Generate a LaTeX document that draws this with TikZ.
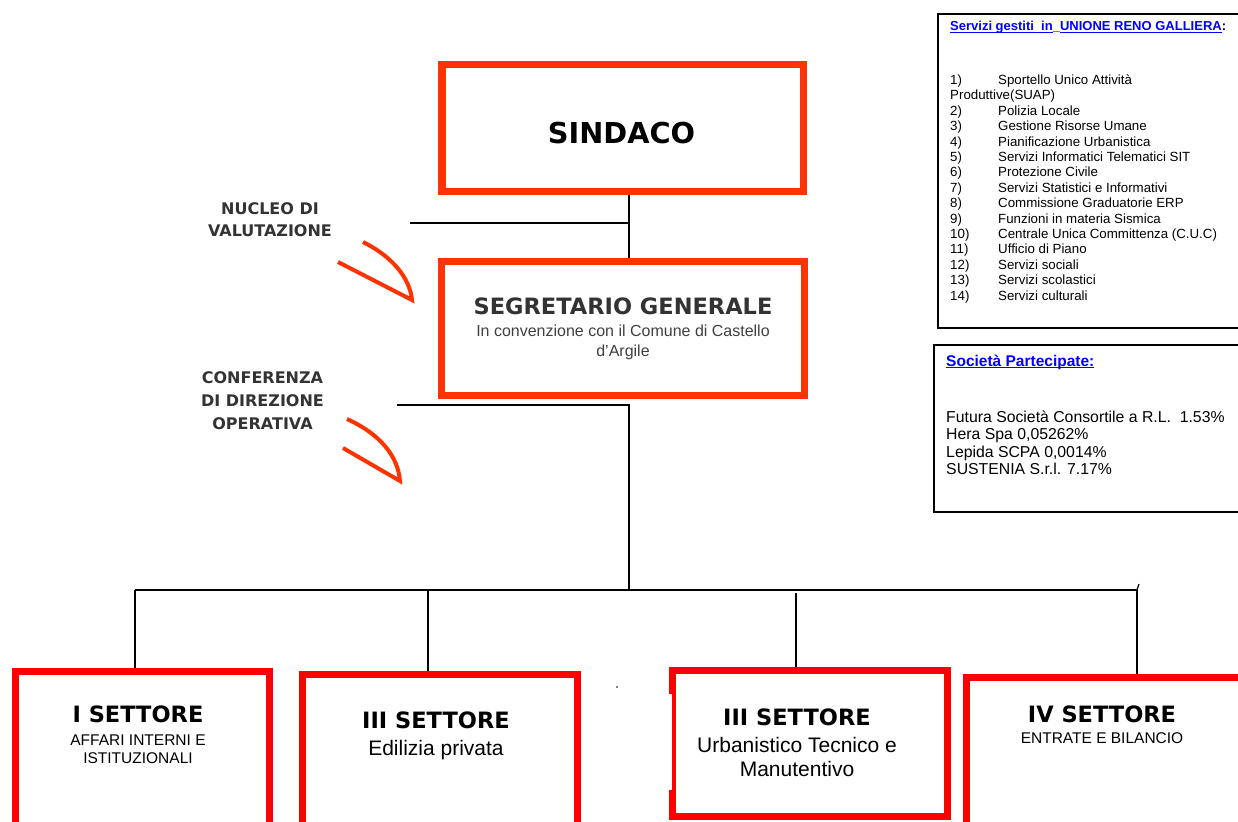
\documentclass[tikz,border=0pt]{standalone}
\usepackage{fontspec}
\setmainfont{Liberation Sans}
\newfontfamily\dejavu{DejaVu Sans}
\definecolor{ored}{HTML}{FF3300}
\definecolor{bred}{HTML}{FF0000}
\definecolor{dgray}{HTML}{333333}
\definecolor{sgray}{HTML}{404040}
\definecolor{lblue}{HTML}{0000FF}
\newcommand\myul[1]{\setbox0\hbox{#1}\rlap{\rule[-2.3pt]{\wd0}{1.3pt}}\box0}
\newcommand\nm[1]{\makebox[48pt][l]{#1}}
\begin{document}
\begin{tikzpicture}[x=1pt,y=-1pt,
  topbox/.style={draw=ored,line width=7.5pt,inner sep=0pt},
  secbox/.style={draw=bred,line width=7pt,inner sep=0pt},
  sidebox/.style={draw=black,line width=2pt,inner sep=0pt},
  link/.style={draw=black,line width=1.8pt},
  curl/.style={draw=ored,line width=4pt,line join=miter},
  lbl/.style={inner sep=0pt,anchor=base},
  heavy/.style={font=\dejavu\bfseries\fontsize{#1}{#1}\selectfont},
  plain/.style={font=\fontsize{#1}{#1}\selectfont}]
\useasboundingbox (0,0) rectangle (1238,821);
\clip (0,0) rectangle (1238,821);

% connectors
\coordinate (j1) at (629,223);
\coordinate (nv) at (410,223);
\coordinate (cd) at (397,405);
\coordinate (j2) at (629,405);
\coordinate (j3) at (629,590);
\coordinate (b1) at (135,590);
\coordinate (b2) at (428,590);
\coordinate (b3) at (796,593);
\coordinate (b4) at (1137,590);

% boxes
\node[topbox,minimum width=361.5pt,minimum height=126.5pt] (sind) at (622.5,128) {};
\node[topbox,minimum width=363pt,minimum height=134pt] (seg) at (623,328.5) {};
\node[secbox,minimum width=254pt,minimum height=155pt] (s1) at (142.5,749) {};
\node[secbox,minimum width=275pt,minimum height=154pt] (s2) at (440,751.5) {};
\node[secbox,minimum width=275pt,minimum height=146pt] (s3) at (810,743.5) {};
\node[secbox,minimum width=284pt,minimum height=151pt] (s4) at (1108.5,753) {};
\fill[white] (668.5,694) rectangle (672.2,790);

\draw[link] (sind.south -| j1) -- (seg.north -| j1);
\draw[link] (nv) -- (j1);
\draw[link] (cd) -- (j2) -- (j3);
\draw[link] (b1) -- (b4);
\draw[link] (b1) -- (s1.north -| b1);
\draw[link] (b2) -- (s2.north -| b2);
\draw[link] (b3) -- (s3.north -| b3);
\draw[link] (b4) -- (s4.north -| b4);
\draw[link,line width=1.2pt] (b4) -- ++(2,-6);
\fill (617,687) circle (0.8);

% curls
\draw[curl] (363,242) .. controls (395,258) and (410,280) .. (412,300) -- (338,262);
\draw[curl] (347,419) .. controls (380,434) and (398,456) .. (400,481) -- (343,448);

% texts
\node[lbl,heavy=28.8] (sindt) at (621.5,144) {SINDACO};
\node[lbl,heavy=22.5,text=dgray] (segt) at (623,314) {SEGRETARIO GENERALE};
\node[lbl,font=\fontsize{16}{20}\selectfont,text=sgray] (segs) at (623,336)
  {\parbox[t]{330pt}{\centering In convenzione con il Comune di Castello\\d’Argile}};
\node[lbl,font=\dejavu\bfseries\fontsize{16}{22}\selectfont,text=dgray] (nucleo) at (270,214)
  {\parbox[t]{200pt}{\centering NUCLEO DI\\VALUTAZIONE}};
\node[lbl,font=\dejavu\bfseries\fontsize{16}{23}\selectfont,text=dgray] (cdo) at (262.5,383)
  {\parbox[t]{200pt}{\centering CONFERENZA\\DI DIREZIONE\\OPERATIVA}};

\node[lbl,heavy=22.5] (s1t) at (138,722) {I SETTORE};
\node[lbl,font=\fontsize{15.5}{18}\selectfont] (s1s) at (138,745)
  {\parbox[t]{240pt}{\centering AFFARI INTERNI E\\ISTITUZIONALI}};
\node[lbl,heavy=22.5] (s2t) at (436,728) {III SETTORE};
\node[lbl,plain=21] (s2s) at (436,755.5) {Edilizia privata};
\node[lbl,heavy=22.5] (s3t) at (797,725) {III SETTORE};
\node[lbl,font=\fontsize{21}{24}\selectfont] (s3s) at (797,752.5)
  {\parbox[t]{260pt}{\centering Urbanistico Tecnico e\\Manutentivo}};
\node[lbl,heavy=22.5] (s4t) at (1102,722) {IV SETTORE};
\node[lbl,plain=15.5] (s4s) at (1102,743.5) {ENTRATE E BILANCIO};

% side boxes
\node[sidebox,minimum width=312pt,minimum height=314pt] (srv) at (1094,171) {};
\node[lbl,anchor=base west,font=\bfseries\fontsize{13}{15}\selectfont,text=lblue] (srvt) at (950,31)
  {\myul{Servizi gestiti\ \ in}{\color{black}\_}\myul{UNIONE RENO GALLIERA}{\color{black}:}};
\node[lbl,anchor=base west,font=\fontsize{13.3}{15.4}\selectfont] (srvl) at (950,84.5)
  {\parbox[t]{285pt}{\raggedright
  \nm{1)}Sportello Unico Attività\\
  Produttive(SUAP)\\
  \nm{2)}Polizia Locale\\
  \nm{3)}Gestione Risorse Umane\\
  \nm{4)}Pianificazione Urbanistica\\
  \nm{5)}Servizi Informatici Telematici SIT\\
  \nm{6)}Protezione Civile\\
  \nm{7)}Servizi Statistici e Informativi\\
  \nm{8)}Commissione Graduatorie ERP\\
  \nm{9)}Funzioni in materia Sismica\\
  \nm{10)}Centrale Unica Committenza (C.U.C)\\
  \nm{11)}Ufficio di Piano\\
  \nm{12)}Servizi sociali\\
  \nm{13)}Servizi scolastici\\
  \nm{14)}Servizi culturali}};

\node[sidebox,minimum width=316pt,minimum height=167pt] (soc) at (1092,428.5) {};
\node[lbl,anchor=base west,font=\bfseries\fontsize{15.5}{18}\selectfont,text=lblue] (soct) at (946,366)
  {\myul{Società Partecipate:}};
\node[lbl,anchor=base west,font=\fontsize{15.8}{17.6}\selectfont] (socl) at (946,422)
  {\parbox[t]{290pt}{\raggedright
  Futura Società Consortile a R.L.\ \ 1.53\%\\
  Hera Spa 0,05262\%\\
  Lepida SCPA 0,0014\%\\
  SUSTENIA S.r.l. 7.17\%}};
\end{tikzpicture}
\end{document}
